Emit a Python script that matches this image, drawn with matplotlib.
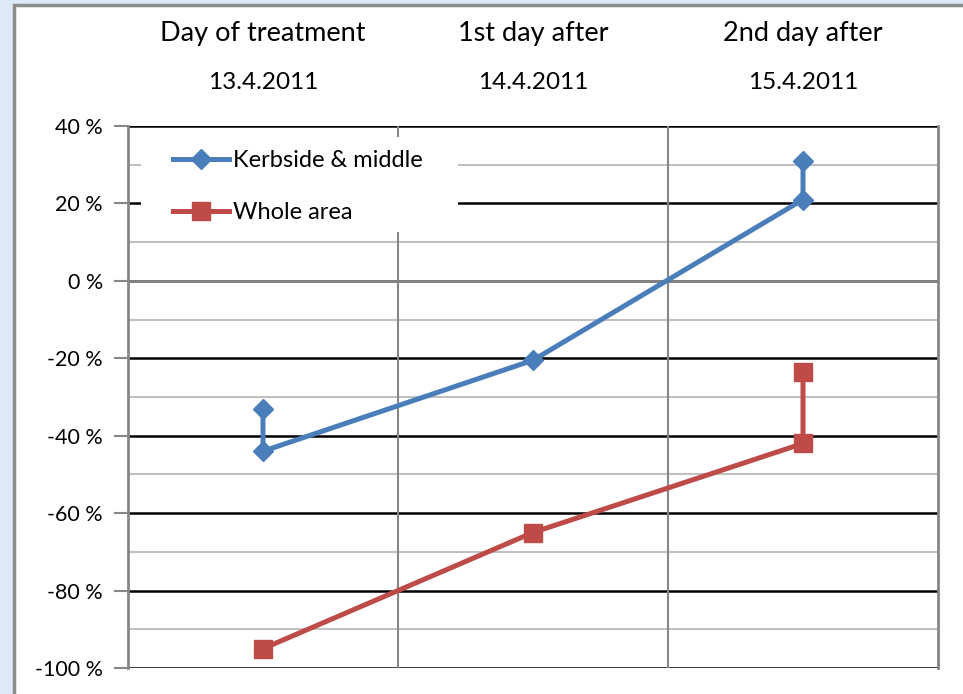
import matplotlib
matplotlib.use("Agg")
import matplotlib.pyplot as plt
from matplotlib.patches import Rectangle
from matplotlib.ticker import MultipleLocator, FuncFormatter

plt.rcParams['font.family'] = ['Lato', 'DejaVu Sans']

# days and change relative to reference (%)
days = ["Day of treatment", "1st day after", "2nd day after"]
dates = ["13.4.2011", "14.4.2011", "15.4.2011"]

# each day index may carry two readings joined by a vertical segment
kerb_x = [0, 0, 1, 2, 2]
kerb_y = [-33, -44, -20.5, 21, 31]
whole_x = [0, 1, 2, 2]
whole_y = [-95, -65, -42, -23.5]

blue = '#4a7ebb'
red = '#be4b48'

fig = plt.figure(figsize=(9.63, 6.94), dpi=100)
fig.set_facecolor('#dde9f6')

# white chart area with grey border
W, H = 963, 694
fig.patches.append(Rectangle((14 / W, -0.1), 1.2, (H - 5) / H + 0.1,
                             transform=fig.transFigure, facecolor='white',
                             edgecolor='#8c8c8c', lw=2.5, zorder=-5))

ax = fig.add_axes([128 / W, (H - 668) / H, 810 / W, 542 / H])
ax.set_facecolor('white')

ax.set_xlim(-0.5, 2.5)
ax.set_ylim(-100, 40)

ax.yaxis.set_major_locator(MultipleLocator(20))
ax.yaxis.set_minor_locator(MultipleLocator(10))
ax.yaxis.set_major_formatter(FuncFormatter(lambda v, p: f"{int(round(v))} %"))
ax.set_xticks([])

# grid lines
for v in range(-90, 40, 20):
    ax.axhline(v, color='#c0c0c0', lw=1.5, zorder=1)
for v in range(-100, 41, 20):
    ax.axhline(v, color='black', lw=1.8, zorder=1.2)
ax.axhline(0, color='#868686', lw=2, zorder=1.4)
for v in [0.5, 1.5]:
    ax.axvline(v, color='#868686', lw=1.5, zorder=1.3)

for s in ['top', 'bottom']:
    ax.spines[s].set_visible(False)
for s in ['left', 'right']:
    ax.spines[s].set_color('#868686')
    ax.spines[s].set_linewidth(2)

ax.tick_params(axis='y', which='major', direction='out', length=10, width=1.5,
               color='#868686', labelsize=15.5, pad=8, labelcolor='black')
ax.tick_params(axis='y', which='minor', length=0)

ax.plot(kerb_x, kerb_y, color=blue, lw=3.6, marker='D', ms=10,
        label='Kerbside & middle', zorder=3, clip_on=False)
ax.plot(whole_x, whole_y, color=red, lw=3.6, marker='s', ms=13,
        label='Whole area', zorder=3, clip_on=False)

# day names and dates above the plot
for i, (d, dt) in enumerate(zip(days, dates)):
    ax.text(i, 1.17, d, transform=ax.get_xaxis_transform(), ha='center',
            va='center', fontsize=19.5)
    ax.text(i, 1.081, dt, transform=ax.get_xaxis_transform(), ha='center',
            va='center', fontsize=17.5)

# white backing behind the legend entries
ax.add_patch(Rectangle((141 / W, (H - 232) / H), 317 / W, 95 / H,
                       transform=fig.transFigure, facecolor='white',
                       edgecolor='none', zorder=4))

leg = ax.legend(loc='upper left', bbox_to_anchor=(166 / W, (H - 143) / H),
                bbox_transform=fig.transFigure, frameon=False,
                fontsize=17, handlelength=2.35, handletextpad=0.2,
                borderpad=0.3, borderaxespad=0, labelspacing=1.3)
leg.set_zorder(5)

fig.savefig('out.png', dpi=100, facecolor=fig.get_facecolor())
